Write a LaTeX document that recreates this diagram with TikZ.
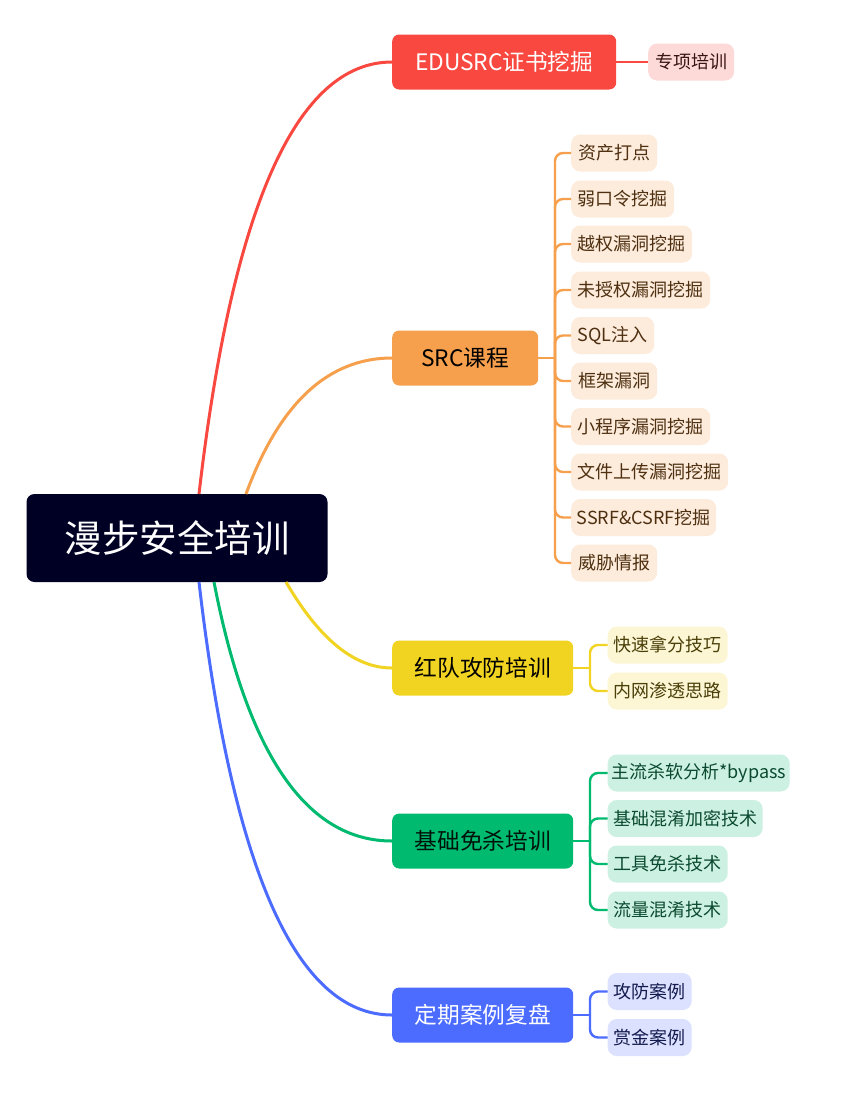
\documentclass[tikz,border=0pt]{standalone}
\usepackage{fontspec}
\setmainfont{Noto Sans CJK SC}
\usetikzlibrary{calc}
\definecolor{rootc}{HTML}{000024}
\definecolor{redc}{HTML}{F94840}
\definecolor{redl}{HTML}{FDDAD7}
\definecolor{orac}{HTML}{F6A04D}
\definecolor{oral}{HTML}{FDEBDC}
\definecolor{yelc}{HTML}{F1D322}
\definecolor{yell}{HTML}{FDF6D4}
\definecolor{grnc}{HTML}{00BA70}
\definecolor{grnl}{HTML}{CCF1E2}
\definecolor{bluc}{HTML}{4C6BFF}
\definecolor{blul}{HTML}{DBE1FE}
\definecolor{redt}{HTML}{3A1414}
\definecolor{orat}{HTML}{4E3010}
\definecolor{yelt}{HTML}{4A3F08}
\definecolor{grnt}{HTML}{0B4A30}
\definecolor{blut}{HTML}{121A4E}
\begin{document}
\begin{tikzpicture}[x=1pt,y=-1pt,
  rootbox/.style={fill=rootc, rounded corners=8pt, text=white, font=\fontsize{37.5}{42}\selectfont, minimum width=301pt, minimum height=88pt, inner sep=0pt},
  mainbox/.style={rounded corners=7pt, minimum height=55pt, inner sep=0pt, font=\fontsize{22.7}{26}\selectfont, anchor=west},
  subbox/.style={rounded corners=9pt, minimum height=37pt, inner sep=0pt, font=\fontsize{18}{21}\selectfont, anchor=west},
  branch/.style={line width=3pt},
  twig/.style={line width=2.4pt, rounded corners=8pt}]
\useasboundingbox (0,0) rectangle (843,1095);
\fill[white] (0,0) rectangle (843,1095);

% root
\node[rootbox] (root) at (177,538) {漫步安全培训};

% level 1
\node[mainbox, fill=redc, text=white, minimum width=224pt] (edu) at (392,62) {EDUSRC证书挖掘};
\node[mainbox, fill=orac, text=black, minimum width=146pt] (src) at (392,358) {SRC课程};
\node[mainbox, fill=yelc, text=black, minimum width=181pt] (hd) at (392,668) {红队攻防培训};
\node[mainbox, fill=grnc, text=black!90!grnc, minimum width=181pt] (jc) at (392,841) {基础免杀培训};
\node[mainbox, fill=bluc, text=white, minimum width=181pt] (dq) at (392,1015) {定期案例复盘};

% level 2
\node[subbox, fill=redl, text=redt, minimum width=86pt] (zx) at (648,62) {专项培训};

\node[subbox, fill=oral, text=orat, minimum width=86pt] (s1) at (571,153) {资产打点};
\node[subbox, fill=oral, text=orat, minimum width=103pt] (s2) at (571,199) {弱口令挖掘};
\node[subbox, fill=oral, text=orat, minimum width=121pt] (s3) at (571,244) {越权漏洞挖掘};
\node[subbox, fill=oral, text=orat, minimum width=139pt] (s4) at (571,290) {未授权漏洞挖掘};
\node[subbox, fill=oral, text=orat, minimum width=83pt] (s5) at (571,335.5) {SQL注入};
\node[subbox, fill=oral, text=orat, minimum width=86pt] (s6) at (571,381) {框架漏洞};
\node[subbox, fill=oral, text=orat, minimum width=139pt] (s7) at (571,426.5) {小程序漏洞挖掘};
\node[subbox, fill=oral, text=orat, minimum width=157pt] (s8) at (571,472) {文件上传漏洞挖掘};
\node[subbox, fill=oral, text=orat, minimum width=145pt] (s9) at (571,517.5) {SSRF\&CSRF挖掘};
\node[subbox, fill=oral, text=orat, minimum width=86pt] (s10) at (571,563) {威胁情报};

\node[subbox, fill=yell, text=yelt, minimum width=120pt] (h1) at (607.5,645) {快速拿分技巧};
\node[subbox, fill=yell, text=yelt, minimum width=120pt] (h2) at (607.5,691) {内网渗透思路};

\node[subbox, fill=grnl, text=grnt, minimum width=182pt] (g1) at (607.5,773) {主流杀软分析*bypass};
\node[subbox, fill=grnl, text=grnt, minimum width=155pt] (g2) at (607.5,818.5) {基础混淆加密技术};
\node[subbox, fill=grnl, text=grnt, minimum width=120pt] (g3) at (607.5,864) {工具免杀技术};
\node[subbox, fill=grnl, text=grnt, minimum width=120pt] (g4) at (607.5,910) {流量混淆技术};

\node[subbox, fill=blul, text=blut, minimum width=84pt] (b1) at (607.5,991.5) {攻防案例};
\node[subbox, fill=blul, text=blut, minimum width=84pt] (b2) at (607.5,1037.5) {赏金案例};

% branch curves from root (quadratic, control 50 to the right of start at end height)
\coordinate (ra) at (199,494);
\coordinate (rb) at (246,494);
\coordinate (rc) at (286,582);
\coordinate (rd) at (214,582);
\coordinate (re) at (199,582);
\coordinate (ka) at ($(ra |- edu.west)+(50,0)$);
\coordinate (kb) at ($(rb |- src.west)+(50,0)$);
\coordinate (kc) at ($(rc |- hd.west)+(50,0)$);
\coordinate (kd) at ($(rd |- jc.west)+(50,0)$);
\coordinate (ke) at ($(re |- dq.west)+(50,0)$);
\draw[branch, redc] (ra) .. controls ($(ra)!2/3!(ka)$) and ($(edu.west)!2/3!(ka)$) .. (edu.west);
\draw[branch, orac] (rb) .. controls ($(rb)!2/3!(kb)$) and ($(src.west)!2/3!(kb)$) .. (src.west);
\draw[branch, yelc] (rc) .. controls ($(rc)!2/3!(kc)$) and ($(hd.west)!2/3!(kc)$) .. (hd.west);
\draw[branch, grnc] (rd) .. controls ($(rd)!2/3!(kd)$) and ($(jc.west)!2/3!(kd)$) .. (jc.west);
\draw[branch, bluc] (re) .. controls ($(re)!2/3!(ke)$) and ($(dq.west)!2/3!(ke)$) .. (dq.west);

% level 2 connectors
\draw[twig, redc] (edu.east) -- (zx.west);

\coordinate (js) at (555,358);
\draw[twig, orac] (src.east) -- (js);
\foreach \c in {s1,s2,s3,s4,s5,s6,s7,s8,s9,s10}
  \draw[twig, orac] (js) |- (\c.west);

\coordinate (jh) at (590,668);
\draw[twig, yelc] (hd.east) -- (jh);
\foreach \c in {h1,h2}
  \draw[twig, yelc] (jh) |- (\c.west);

\coordinate (jg) at (590,841);
\draw[twig, grnc] (jc.east) -- (jg);
\foreach \c in {g1,g2,g3,g4}
  \draw[twig, grnc] (jg) |- (\c.west);

\coordinate (jb) at (590,1015);
\draw[twig, bluc] (dq.east) -- (jb);
\foreach \c in {b1,b2}
  \draw[twig, bluc] (jb) |- (\c.west);
\end{tikzpicture}
\end{document}
